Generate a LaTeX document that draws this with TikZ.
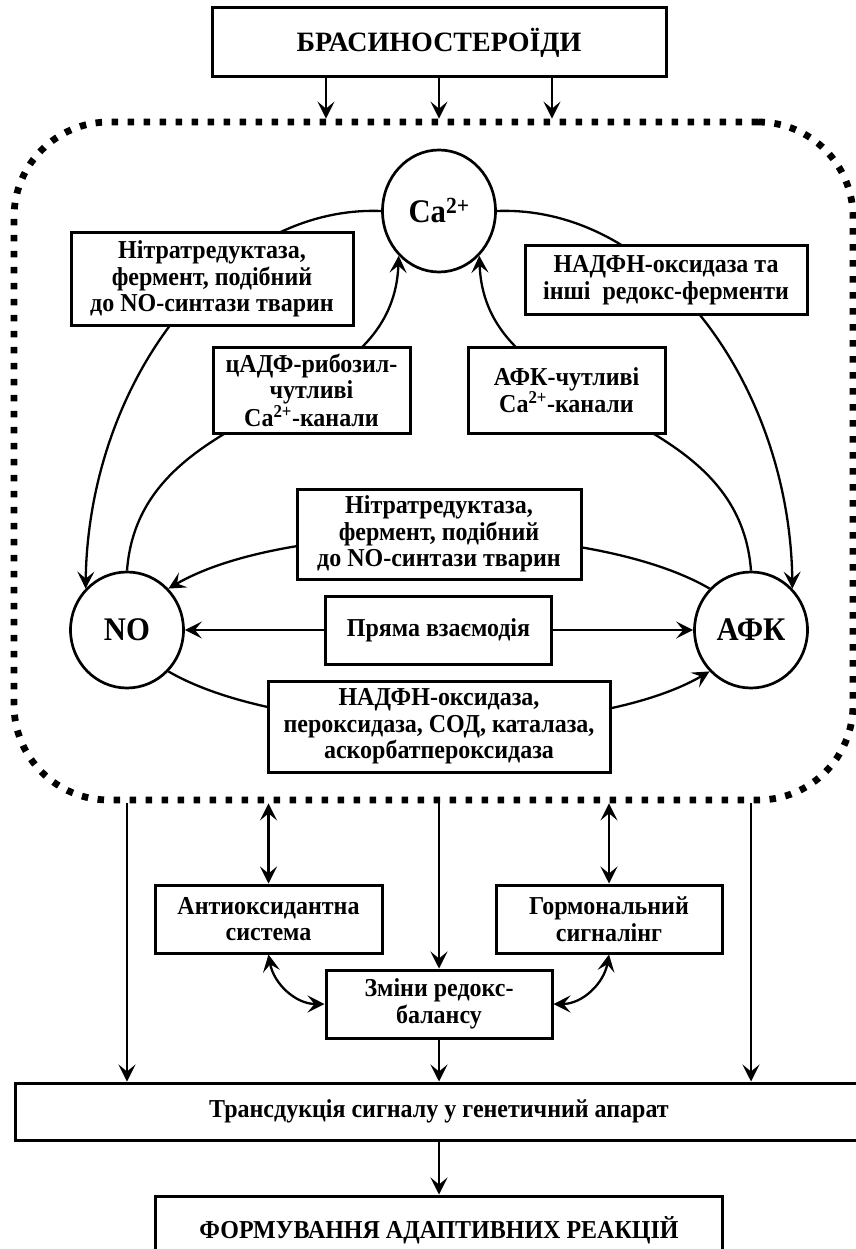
\documentclass[tikz,border=0pt]{standalone}
\usepackage{fontspec}
\setmainfont{Liberation Serif}[FakeStretch=0.93]
\newfontfamily\titul{Liberation Serif}
\usetikzlibrary{arrows.meta,calc,shapes.geometric}

\begin{document}
\begin{tikzpicture}[x=1pt, y=1pt, line width=2.3pt,
  >={Stealth[length=17pt, width=17pt, inset=7pt]},
  blok/.style={draw, line width=3pt, fill=white, align=center, inner sep=2pt,
    font=\fontsize{25.8}{26.5}\selectfont\bfseries},
  kolo/.style={draw, ellipse, line width=2.7pt, fill=white, inner sep=0pt,
    minimum width=113pt, minimum height=116pt, font=\fontsize{33}{35}\selectfont\bfseries}]
  \useasboundingbox (0,0) rectangle (855,-1249);
  % рамка
  \node[draw, line width=6.8pt, dash pattern=on 6.5pt off 9.5pt, rounded corners=95pt,
    minimum width=839pt, minimum height=678pt] (merezha) at (433.5,-461) {};
  \node[blok, font=\titul\fontsize{28}{30}\selectfont\bfseries, minimum width=454pt, minimum height=69pt]
    (bras) at (439,-42.5) {БРАСИНОСТЕРОЇДИ};
  \foreach \dx in {-113,0,113}{
    \coordinate (p) at ($(bras.south)+(\dx,0)$);
    \draw[->] (p) -- (p |- merezha.north);
  }
  % кола
  \node[kolo, minimum height=122pt] (ca) at (439,-211) {Ca\textsuperscript{2+}};
  \node[kolo] (no) at (127,-630) {NO};
  \node[kolo] (afk) at (751,-630) {АФК};
  % криві за блоками
  \draw[->] (ca.west) .. controls +(-160,6) and +(3,205) .. (no.135);
  \draw[->] (ca.east) .. controls +(160,6) and +(-3,205) .. (afk.45);
  \draw[->] (no.north) .. controls +(13,174) and +(-6,-164) .. (ca.228);
  \draw[->] (afk.north) .. controls +(-13,174) and +(6,-164) .. (ca.312);
  \draw[->] (afk.135) .. controls +(-120,70) and +(120,70) .. (no.45);
  \draw[->] (no.-45) .. controls +(120,-70) and +(-120,-70) .. (afk.225);
  % блоки
  \node[blok, minimum width=282pt, minimum height=92pt] (nitrA) at (212,-279)
    {Нітратредуктаза,\\ фермент, подібний\\ до NO-синтази тварин};
  \node[blok, minimum width=282pt, minimum height=68pt] (nadfnA) at (666,-280)
    {НАДФН-оксидаза та\\ інші~ редокс-ферменти};
  \node[blok, minimum width=197pt, minimum height=86pt] (cadp) at (311.5,-390)
    {цАДФ-рибозил-\\ чутливі\\ Ca\textsuperscript{2+}-канали};
  \node[blok, minimum width=197pt, minimum height=86pt] (afkch) at (566.5,-390)
    {АФК-чутливі\\ Ca\textsuperscript{2+}-канали};
  \node[blok, minimum width=284pt, minimum height=90pt] (nitrB) at (439,-534)
    {Нітратредуктаза,\\ фермент, подібний\\ до NO-синтази тварин};
  \node[blok, minimum width=226pt, minimum height=68pt] (pryama) at (438.5,-630) {Пряма взаємодія};
  \node[blok, minimum width=342pt, minimum height=91pt] (nadfnB) at (439,-726.5)
    {НАДФН-оксидаза,\\ пероксидаза, СОД, каталаза,\\ аскорбатпероксидаза};
  \draw[->] (pryama) -- (no);
  \draw[->] (pryama) -- (afk);
  % нижня частина
  \node[blok, minimum width=227pt, minimum height=68pt] (anti) at (268.5,-919) {Антиоксидантна\\ система};
  \node[blok, minimum width=226pt, minimum height=68pt] (horm) at (609,-919) {Гормональний\\ сигналінг};
  \node[blok, minimum width=226pt, minimum height=68pt] (zmin) at (439,-1004) {Зміни редокс-\\ балансу};
  \node[blok, minimum width=848pt, minimum height=57pt] (trans) at (439,-1111.5)
    {Трансдукція сигналу у генетичний апарат};
  \node[blok, minimum width=567pt, minimum height=68pt] (form) at (439,-1230)
    {ФОРМУВАННЯ АДАПТИВНИХ РЕАКЦІЙ};
  \draw[->] (merezha.south -| no) -- (trans.north -| no);
  \draw[->] (merezha.south -| afk) -- (trans.north -| afk);
  \draw[->] (merezha.south -| zmin) -- (zmin.north);
  \draw[<->] (merezha.south -| anti) -- (anti.north);
  \draw[<->] (merezha.south -| horm) -- (horm.north);
  \draw[<->] (anti.south) to[out=-80, in=180] (zmin.west);
  \draw[<->] (horm.south) to[out=-100, in=0] (zmin.east);
  \draw[->] (zmin) -- (trans);
  \draw[->] (trans) -- (form);
\end{tikzpicture}
\end{document}
